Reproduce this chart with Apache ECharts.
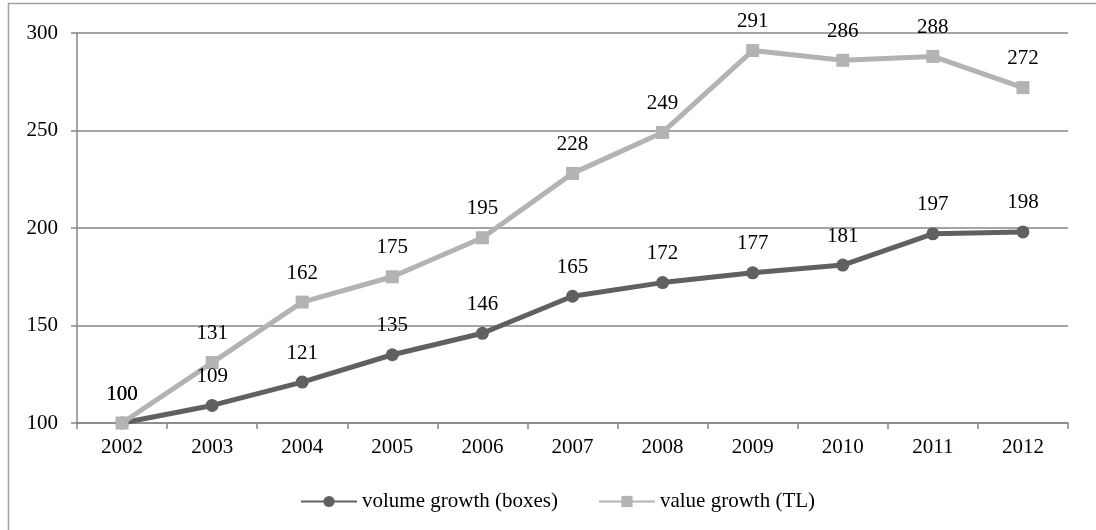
<!DOCTYPE html>
<html>
<head>
<meta charset="utf-8">
<script src="https://cdn.jsdelivr.net/npm/echarts@6/dist/echarts.min.js"></script>
<style>
html,body{margin:0;padding:0;background:#fff;}
#c{width:1096px;height:530px;}
</style>
</head>
<body>
<div id="c"></div>
<script>
const years = ['2002','2003','2004','2005','2006','2007','2008','2009','2010','2011','2012'];
const volumeGrowth = [100,109,121,135,146,165,172,177,181,197,198];
const valueGrowth = [100,131,162,175,195,228,249,291,286,288,272];
const yTicks = {min:100, max:300, interval:50};

const font = "'Liberation Serif','Times New Roman',serif";
const chart = echarts.init(document.getElementById('c'), null, {renderer:'canvas'});
chart.setOption({
  animation:false,
  backgroundColor:'#fff',
  textStyle:{fontFamily:font},
  graphic:[{type:'rect', shape:{x:8.5,y:3.5,width:1200,height:700}, style:{fill:'none', stroke:'#a0a0a0', lineWidth:1.5}, silent:true, z:-1}],
  grid:{left:77, right:28, top:33, bottom:107, containLabel:false},
  legend:{
    left:295, top:486, itemWidth:56, itemHeight:14, itemGap:40,
    textStyle:{fontFamily:font, fontSize:21, color:'#000'},
    data:['volume growth (boxes)','value growth (TL)']
  },
  xAxis:{
    type:'category', data:years, boundaryGap:true,
    axisLine:{lineStyle:{color:'#868686', width:1.5}},
    axisTick:{show:true, length:6, lineStyle:{color:'#868686', width:1.5}},
    axisLabel:{color:'#000', fontSize:21, fontFamily:font, margin:14},
    splitLine:{show:false}
  },
  yAxis:{
    type:'value', min:yTicks.min, max:yTicks.max, interval:yTicks.interval,
    axisLine:{show:true, lineStyle:{color:'#868686', width:1.5}},
    axisTick:{show:true, length:6, lineStyle:{color:'#868686', width:1.5}},
    axisLabel:{color:'#000', fontSize:21, fontFamily:font, margin:19},
    splitLine:{show:true, lineStyle:{color:'#868686', width:1.5}}
  },
  series:[
    {
      name:'volume growth (boxes)', type:'line', data:volumeGrowth,
      symbol:'circle', symbolSize:13,
      lineStyle:{color:'#606060', width:5},
      itemStyle:{color:'#606060'},
      label:{show:true, position:'top', distance:12, color:'#000', fontSize:21, fontFamily:font}
    },
    {
      name:'value growth (TL)', type:'line', data:valueGrowth,
      symbol:'rect', symbolSize:13,
      lineStyle:{color:'#b3b3b3', width:5},
      itemStyle:{color:'#b3b3b3'},
      label:{show:true, position:'top', distance:12, color:'#000', fontSize:21, fontFamily:font}
    }
  ]
});
</script>
</body>
</html>
